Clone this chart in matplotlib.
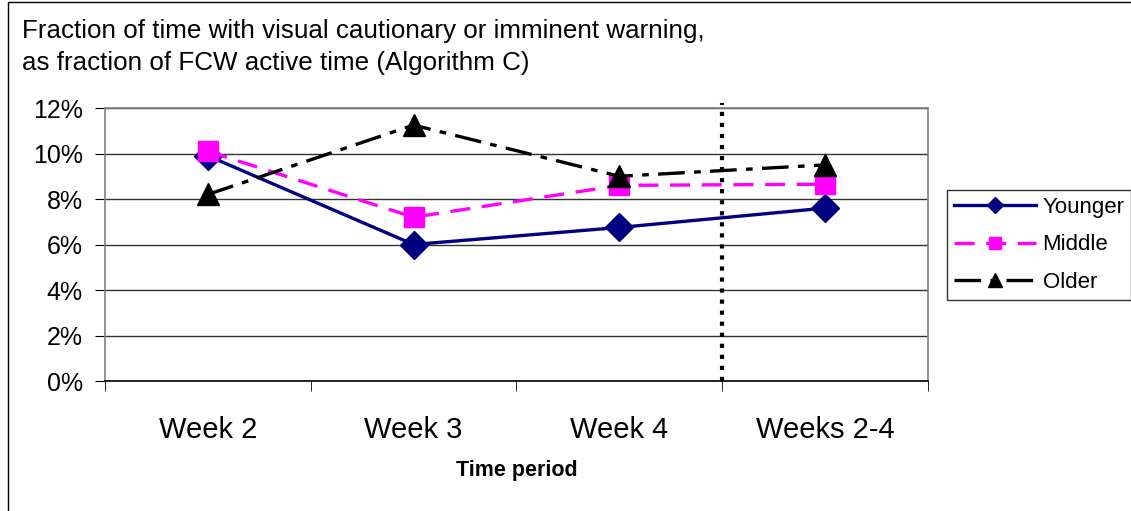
import matplotlib
matplotlib.use("Agg")
import matplotlib.pyplot as plt
from matplotlib.patches import Rectangle
from matplotlib.ticker import FixedLocator, PercentFormatter

plt.rcParams['font.family'] = ['Liberation Sans', 'DejaVu Sans']

# data (percent)
periods = ['Week 2', 'Week 3', 'Week 4', 'Weeks 2-4']
younger = [9.9, 6.0, 6.75, 7.6]
middle = [10.1, 7.2, 8.6, 8.65]
older = [8.2, 11.25, 9.0, 9.5]
y_ticks = [0, 2, 4, 6, 8, 10, 12]

title_lines = ['Fraction of time with visual cautionary or imminent warning,',
               'as fraction of FCW active time (Algorithm C)']

fig = plt.figure(figsize=(11.31, 5.11), dpi=100)
ax = fig.add_axes([0.0928, 0.2544, 0.7277, 0.5342])

x = list(range(len(periods)))

ax.plot(x, younger, color='#000080', lw=2.4, marker='D', markersize=14,
        label='Younger', zorder=3)
ax.plot(x, middle, color='#FF00FF', lw=2.4, dashes=(6, 3.5), marker='s',
        markersize=14, label='Middle', zorder=4)
ax.plot(x, older, color='black', lw=2.4, dashes=(8, 2.8, 2, 2.8), marker='^',
        markersize=16, label='Older', zorder=5)

# divider between single weeks and the combined period
ax.axvline(2.5, ymin=0, ymax=1.02, color='black', ls=':', lw=3, clip_on=False, zorder=6)

ax.set_xlim(-0.5, len(periods) - 0.5)
ax.set_ylim(0, 12)
ax.set_xticks(x)
ax.set_xticklabels(periods, fontsize=21)
ax.xaxis.set_minor_locator(FixedLocator([i - 0.5 for i in range(len(periods) + 1)]))
ax.tick_params(axis='x', which='major', length=0, pad=25)
ax.tick_params(axis='x', which='minor', length=7, color='black', direction='out')
ax.set_yticks(y_ticks)
ax.yaxis.set_major_formatter(PercentFormatter(decimals=0))
ax.tick_params(axis='y', labelsize=18, length=7, direction='out', pad=9)

ax.grid(axis='y', color='#333333', lw=1)
ax.set_axisbelow(True)
for side in ['left', 'right', 'top', 'bottom']:
    ax.spines[side].set_color('#808080')
    ax.spines[side].set_linewidth(1.2)
ax.spines['bottom'].set_color('black')

ax.set_xlabel('Time period', fontsize=15.5, fontweight='bold', labelpad=12)

leg = fig.legend(loc='center left', bbox_to_anchor=(947 / 1131, 1 - 245 / 511),
                 fontsize=16, handlelength=3.7, markerscale=0.6, frameon=True,
                 fancybox=False, edgecolor='black', borderpad=0.3,
                 labelspacing=0.75, handletextpad=0.3, borderaxespad=0)
leg.get_frame().set_linewidth(1)

fig.text(22 / 1131, 1 - 31 / 511, title_lines[0], fontsize=18.7, va='center')
fig.text(22 / 1131, 1 - 63 / 511, title_lines[1], fontsize=18.7, va='center')

# outer chart border
fig.patches.append(Rectangle((8 / 1131, -0.1), 1.2, 1 - 2 / 511 + 0.1,
                             transform=fig.transFigure, fill=False,
                             edgecolor='black', lw=1))

fig.savefig('out.png', dpi=100)
